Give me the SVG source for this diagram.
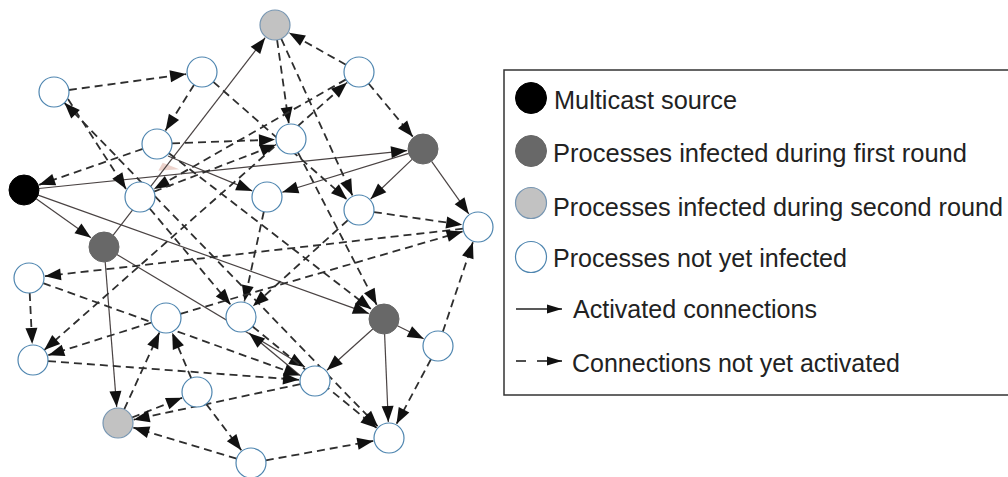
<svg xmlns="http://www.w3.org/2000/svg" width="1008" height="477" viewBox="0 0 1008 477">
<style>
.s{stroke:#4a4343;stroke-width:1.2;fill:none;marker-end:url(#ah)}
.d{stroke:#2e2e2e;stroke-width:1.8;stroke-dasharray:8 5;fill:none;marker-end:url(#ah)}
.b{marker-start:url(#ahs)}
.w{fill:#fff;stroke:#4f86b0;stroke-width:1.2}
.k{fill:#000;stroke:#000;stroke-width:1}
.g1{fill:#686868;stroke:#666;stroke-width:1}
.g2{fill:#c2c2c2;stroke:#7796b2;stroke-width:1.2}
.t{font-family:"Liberation Sans",Arial,sans-serif;font-size:25.3px;fill:#222}
.ls{stroke:#222;stroke-width:1.6;fill:none}
</style>
<defs>
<marker id="ah" markerUnits="userSpaceOnUse" viewBox="-18 -8 19 16" markerWidth="19" markerHeight="16" refX="0" refY="0" orient="auto"><path d="M0,0 L-16,-6 L-16,6Z" fill="#111"/></marker>
<marker id="ahs" markerUnits="userSpaceOnUse" viewBox="-18 -8 19 16" markerWidth="19" markerHeight="16" refX="0" refY="0" orient="auto-start-reverse"><path d="M0,0 L-16,-6 L-16,6Z" fill="#111"/></marker>
<marker id="lh" markerUnits="userSpaceOnUse" viewBox="-16 -6 17 12" markerWidth="17" markerHeight="12" refX="0" refY="0" orient="auto"><path d="M0,0 L-15,-4.5 L-15,4.5Z" fill="#111"/></marker>
</defs>
<rect width="1008" height="477" fill="#fff"/>
<g id="connectors">
<polygon points="158.3,170.7 162.7,162.7 179.3,169.3" fill="#ecd3cc"/>
<line class="s" x1="38.9" y1="188.5" x2="407.1" y2="150.6"/>
<line class="s" x1="36.2" y1="198.7" x2="91" y2="237.7"/>
<line class="s" x1="38.1" y1="195.1" x2="368.9" y2="313.6"/>
<line class="s" x1="113.2" y1="235.1" x2="265.2" y2="37.7"/>
<line class="s" x1="105.2" y1="262" x2="116.7" y2="407.1"/>
<line class="s" x1="116.9" y1="254.6" x2="305" y2="367"/>
<line class="s" x1="408.7" y1="153.4" x2="282.3" y2="192.3"/>
<line class="s" x1="412.1" y1="159.4" x2="370.6" y2="199"/>
<line class="s" x1="431.6" y1="161.3" x2="468.8" y2="213.9"/>
<line class="s" x1="397.4" y1="325.7" x2="423.7" y2="338.8"/>
<line class="s" x1="372.8" y1="329" x2="326.9" y2="370.3"/>
<line class="s" x1="384.6" y1="334" x2="388.3" y2="422"/>
<line class="s" x1="168" y1="156" x2="252.2" y2="190.9"/>
<line class="s" x1="302" y1="377" x2="249" y2="333"/>
<line class="d" x1="68.9" y1="90" x2="186.1" y2="74.1"/>
<line class="d" x1="194.1" y1="84.7" x2="165.5" y2="130.4"/>
<line class="d" x1="142.8" y1="148.9" x2="39.1" y2="184.8"/>
<line class="d" x1="68" y1="99" x2="126" y2="189"/>
<line class="d b" x1="64.4" y1="102.8" x2="377.9" y2="426.5"/>
<line class="d" x1="172" y1="143.4" x2="275" y2="139.6"/>
<line class="d" x1="277.1" y1="39.9" x2="288.8" y2="123.2"/>
<line class="d" x1="281.2" y1="38.7" x2="352.4" y2="195.4"/>
<line class="d" x1="345.9" y1="64.7" x2="289" y2="32.8"/>
<line class="d" x1="368.6" y1="83.5" x2="412.8" y2="136.7"/>
<line class="d" x1="213.3" y1="81.9" x2="347" y2="199.4"/>
<line class="d" x1="346" y1="79.4" x2="153.9" y2="189.1"/>
<line class="d b" x1="44.2" y1="350.1" x2="347" y2="82.6"/>
<line class="d" x1="154" y1="191.6" x2="276.1" y2="144.7"/>
<line class="d" x1="149.7" y1="208.5" x2="230.7" y2="304.8"/>
<line class="d" x1="263.8" y1="211.7" x2="244.4" y2="301.4"/>
<line class="d" x1="347.9" y1="220.1" x2="252.9" y2="306.3"/>
<line class="d" x1="373.9" y1="212.1" x2="462.2" y2="224.7"/>
<line class="d" x1="463.1" y1="228.7" x2="44.9" y2="276.2"/>
<line class="d" x1="180.4" y1="313.8" x2="462.6" y2="231.5"/>
<line class="d" x1="442.8" y1="331.8" x2="472.9" y2="242.2"/>
<line class="d" x1="431" y1="359.2" x2="396.5" y2="423.9"/>
<line class="d" x1="29.7" y1="293" x2="32.2" y2="344"/>
<line class="d" x1="43.1" y1="283.1" x2="299.9" y2="375.6"/>
<line class="d" x1="48" y1="361.1" x2="299" y2="379.8"/>
<line class="d" x1="151.7" y1="322.5" x2="48.3" y2="355.2"/>
<line class="d" x1="124.2" y1="409.4" x2="159.4" y2="332.5"/>
<line class="d" x1="191.2" y1="378.2" x2="172.2" y2="332.8"/>
<line class="d" x1="132" y1="417.5" x2="182.1" y2="397.8"/>
<line class="d" x1="206.1" y1="403.9" x2="241.3" y2="450.3"/>
<line class="d" x1="265.8" y1="460.3" x2="373.3" y2="440.9"/>
<line class="d" x1="236.6" y1="458.7" x2="133.3" y2="427.6"/>
<line class="d" x1="300.3" y1="384.1" x2="133.6" y2="419.7"/>
<line class="d" x1="297.9" y1="152.3" x2="376.7" y2="304.8"/>
<line class="d" x1="168.9" y1="153.2" x2="371.3" y2="309.2"/>
<line class="d" x1="252.6" y1="326.5" x2="376.6" y2="427.9"/>
</g>
<g id="n-source"><circle class="k" cx="24" cy="190" r="15"/></g>
<g id="n-g2a"><circle class="g2" cx="275" cy="25" r="15"/></g>
<g id="n-g2b"><circle class="g2" cx="118" cy="423" r="15"/></g>
<g id="n-d1"><circle class="g1" cx="423" cy="149" r="15"/></g>
<g id="n-d2"><circle class="g1" cx="104" cy="247" r="15"/></g>
<g id="n-d3"><circle class="g1" cx="384" cy="319" r="15"/></g>
<g id="n-w1"><circle class="w" cx="54" cy="92" r="15"/></g>
<g id="n-w2"><circle class="w" cx="202" cy="72" r="15"/></g>
<g id="n-w3"><circle class="w" cx="359" cy="72" r="15"/></g>
<g id="n-w4"><circle class="w" cx="157" cy="144" r="15"/></g>
<g id="n-w5"><circle class="w" cx="291" cy="139" r="15"/></g>
<g id="n-w6"><circle class="w" cx="140" cy="197" r="15"/></g>
<g id="n-w7"><circle class="w" cx="267" cy="197" r="15"/></g>
<g id="n-w8"><circle class="w" cx="359" cy="210" r="15"/></g>
<g id="n-w9"><circle class="w" cx="478" cy="227" r="15"/></g>
<g id="n-w10"><circle class="w" cx="29" cy="278" r="15"/></g>
<g id="n-w11"><circle class="w" cx="166" cy="318" r="15"/></g>
<g id="n-w12"><circle class="w" cx="241" cy="317" r="15"/></g>
<g id="n-w13"><circle class="w" cx="438" cy="346" r="15"/></g>
<g id="n-w14"><circle class="w" cx="33" cy="360" r="15"/></g>
<g id="n-w15"><circle class="w" cx="197" cy="392" r="15"/></g>
<g id="n-w16"><circle class="w" cx="315" cy="381" r="15"/></g>
<g id="n-w17"><circle class="w" cx="389" cy="438" r="15"/></g>
<g id="n-w18"><circle class="w" cx="251" cy="463" r="15"/></g>
<g id="legend">
<rect x="504" y="70" width="510" height="325" fill="#fff" stroke="#333" stroke-width="1.5"/>
<circle class="k" cx="531" cy="98" r="15.5"/>
<circle class="g1" cx="531" cy="151" r="15.5"/>
<circle class="g2" cx="531" cy="203" r="15.5"/>
<circle class="w" cx="531" cy="257" r="15.5" stroke-width="1.6"/>
<text class="t" x="554" y="109" textLength="183" lengthAdjust="spacingAndGlyphs">Multicast source</text>
<text class="t" x="553" y="162" textLength="414" lengthAdjust="spacingAndGlyphs">Processes infected during first round</text>
<text class="t" x="553" y="216" textLength="450" lengthAdjust="spacingAndGlyphs">Processes infected during second round</text>
<text class="t" x="553" y="267" textLength="294" lengthAdjust="spacingAndGlyphs">Processes not yet infected</text>
<text class="t" x="573" y="318" textLength="244" lengthAdjust="spacingAndGlyphs">Activated connections</text>
<text class="t" x="572" y="372" textLength="328" lengthAdjust="spacingAndGlyphs">Connections not yet activated</text>
<line class="ls" x1="516" y1="309" x2="562" y2="309" marker-end="url(#lh)"/>
<line class="ls" x1="516" y1="361" x2="526" y2="361"/>
<line class="ls" x1="537" y1="361" x2="562" y2="361" marker-end="url(#lh)"/>
</g>
</svg>
